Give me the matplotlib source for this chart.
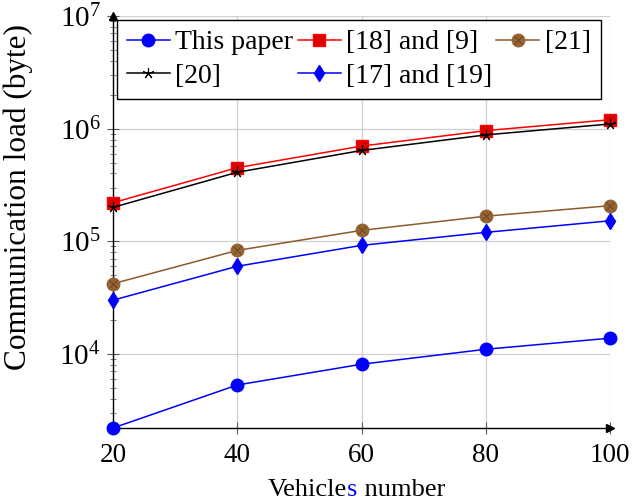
import matplotlib
matplotlib.use("Agg")
import matplotlib.pyplot as plt
from matplotlib.ticker import LogLocator, NullFormatter, FixedLocator
from matplotlib.legend_handler import HandlerTuple

plt.rcParams['font.family'] = ['Liberation Serif', 'DejaVu Serif']
plt.rcParams['mathtext.fontset'] = 'stix'

vehicles = [20, 40, 60, 80, 100]
this_paper = [2200, 5300, 8100, 11000, 13800]
ref18_9 = [220000, 450000, 700000, 960000, 1200000]
ref21 = [42000, 83000, 125000, 167000, 207000]
ref20 = [200000, 410000, 640000, 880000, 1100000]
ref17_19 = [30000, 60000, 92000, 120000, 152000]
xticks = [20, 40, 60, 80, 100]

fig = plt.figure(figsize=(6.32, 5.04), dpi=100)
ax = fig.add_axes([113/632, 76/504, 497/632, 412/504])

brown_fill = '#966432'
brown_line = '#8B5A2B'

l1, = ax.plot(vehicles, this_paper, color='blue', lw=1.1, marker='o', ms=9,
              mfc='blue', mec='blue', clip_on=False, zorder=5)
l2, = ax.plot(vehicles, ref18_9, color='red', lw=1.1, marker='s', ms=8,
              mfc='#DD0000', mec='red', clip_on=False, zorder=5)
l3a, = ax.plot(vehicles, ref21, color=brown_line, lw=1.1, marker='o', ms=9,
               mfc=brown_fill, mec=brown_fill, clip_on=False, zorder=5)
l3b, = ax.plot(vehicles, ref21, ls='none', marker='x', ms=6, mew=0.7,
               color='#6b4520', clip_on=False, zorder=6)
l4, = ax.plot(vehicles, ref20, color='black', lw=1.1, marker=(5, 2, 0), ms=8,
              mew=0.8, clip_on=False, zorder=6)
l5, = ax.plot(vehicles, ref17_19, color='blue', lw=1.1, marker='d', ms=8,
              mfc='blue', mec='blue', clip_on=False, zorder=5)

ax.set_yscale('log')
ax.set_xlim(20, 100)
ax.set_ylim(2200, 1e7)
ax.xaxis.set_major_locator(FixedLocator(xticks))
ax.yaxis.set_major_locator(LogLocator(base=10, numticks=10))
ax.yaxis.set_minor_locator(LogLocator(base=10, subs=range(2, 10), numticks=100))
ax.yaxis.set_minor_formatter(NullFormatter())

ax.grid(True, which='major', color='#d0d0d0', lw=0.9)
ax.set_axisbelow(True)
for s in ['top', 'right']:
    ax.spines[s].set_visible(False)
for s in ['left', 'bottom']:
    ax.spines[s].set_color('black')
    ax.spines[s].set_linewidth(1.0)

ax.tick_params(axis='both', which='major', direction='inout', length=8,
               width=0.8, color='0.35', pad=6)
ax.tick_params(axis='x', which='major', labelsize=19.5, pad=7)
ax.tick_params(axis='y', which='major', labelsize=21, pad=5)
ax.tick_params(axis='y', which='minor', direction='inout', length=5,
               width=0.6, color='0.4')

# axis arrows
ax.plot([1], [0], marker='>', ms=6, color='black', transform=ax.transAxes,
        clip_on=False, zorder=7)
ax.plot([0], [1], marker='^', ms=6, color='black', transform=ax.transAxes,
        clip_on=False, zorder=7)

ax.set_ylabel('Communication load (byte)', fontsize=22.5, va='center')
ax.yaxis.set_label_coords(-0.19, 0.56)

# x label with coloured "s"
xfs = 19
t1 = fig.text(268/632, 3/504, 'Vehicle', fontsize=xfs, ha='left', va='bottom')
a2 = ax.annotate('s', xy=(1, 0), xycoords=t1, fontsize=xfs, color='blue',
                 ha='left', va='bottom', annotation_clip=False)
a3 = ax.annotate(' number', xy=(1, 0), xycoords=a2, fontsize=xfs,
                 ha='left', va='bottom', annotation_clip=False)

leg = ax.legend([l1, l4, l2, l5, (l3a, l3b)],
                ['This paper', '[20]', '[18] and [9]', '[17] and [19]', '[21]'],
                handler_map={tuple: HandlerTuple(ndivide=1)},
                ncol=3, loc='upper left', bbox_to_anchor=(4/497, 0.99),
                fontsize=20, frameon=True, fancybox=False, framealpha=1,
                edgecolor='black', handlelength=1.55, handletextpad=0.2,
                columnspacing=0.15, borderpad=0.35, labelspacing=0.3,
                borderaxespad=0.0)
leg.get_frame().set_linewidth(1.0)
leg.set_zorder(10)

fig.savefig('out.png', dpi=100)
